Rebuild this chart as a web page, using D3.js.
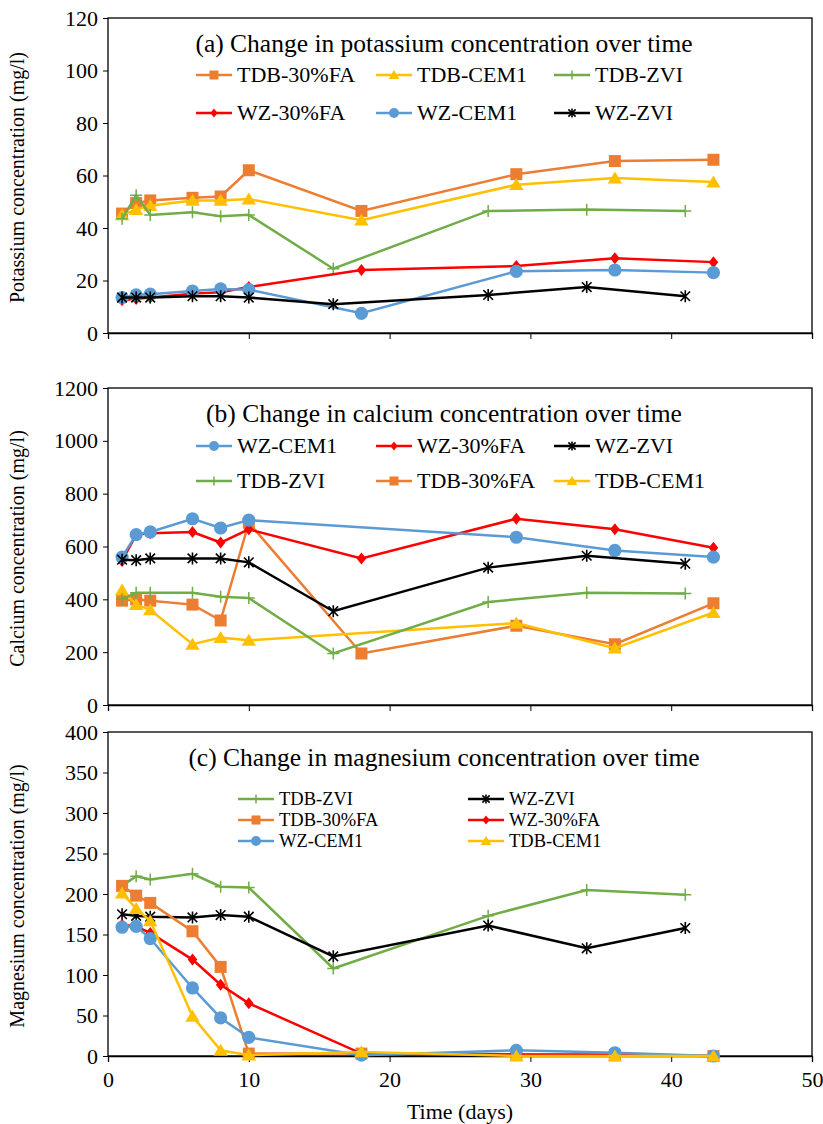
<!DOCTYPE html>
<html>
<head>
<meta charset="utf-8">
<script src="https://d3js.org/d3.v7.min.js"></script>
<style>
  body { margin: 0; background: #fff; }
  svg text { font-family: "Liberation Serif", "Times New Roman", serif; fill: #000; }
</style>
</head>
<body>
<div id="chart"></div>
<script>
// sampling days
const daysMain = [1, 2, 3, 6, 8, 10, 18, 29, 36, 43];
const daysZvi = [1, 2, 3, 6, 8, 10, 16, 27, 34, 41];
const daysSkip18 = [1, 2, 3, 6, 8, 10, 29, 36, 43];

// (a) potassium, mg/l
const kTdbFa = [45.5, 49.5, 50.5, 51.5, 52, 62, 46.5, 60.5, 65.5, 66];
const kTdbCem = [45, 47, 48.5, 50.5, 50.5, 51, 43, 56.5, 59, 57.5];
const kTdbZvi = [43.5, 52.5, 45, 46, 44.5, 45, 24.5, 46.5, 47, 46.5];
const kWzFa = [12.5, 13, 13.5, 15, 15.5, 17.5, 24, 25.5, 28.5, 27];
const kWzCem = [13.5, 14.5, 14.8, 16, 16.8, 16.5, 7.5, 23.5, 24, 23];
const kWzZvi = [13.5, 13.5, 13.5, 14, 14, 13.5, 11, 14.5, 17.5, 14];

// (b) calcium, mg/l
const caWzCem = [560, 645, 655, 705, 670, 700, 635, 585, 560];
const caWzFa = [545, 645, 650, 655, 615, 665, 555, 705, 665, 595];
const caWzZvi = [550, 548, 555, 555, 555, 540, 355, 520, 565, 535];
const caTdbZvi = [400, 425, 425, 425, 410, 405, 195, 390, 425, 422];
const caTdbFa = [395, 400, 395, 380, 320, 690, 195, 300, 230, 385];
const caTdbCem = [435, 380, 360, 230, 255, 245, 310, 215, 350];

// (c) magnesium, mg/l
const mgTdbZvi = [210, 222, 218, 225, 209, 208, 108, 173, 205, 199];
const mgWzZvi = [175, 173, 172, 171, 174, 172, 123, 161, 133, 158];
const mgTdbFa = [210, 198, 189, 154, 110, 3, 3, 2, 1, 0];
const mgWzFa = [162, 160, 152, 119, 88, 65, 3, 2, 2, 0];
const mgWzCem = [159, 160, 145, 84, 47, 23, 1, 7, 4, 0];
const mgTdbCem = [201, 182, 167, 49, 7, 1, 5, 0, 0, 0];

const xTicks = [0, 10, 20, 30, 40, 50];

const styles = {
  'TDB-30%FA': { color: '#ED7D31', shape: 'square' },
  'TDB-CEM1': { color: '#FFC000', shape: 'triangle' },
  'TDB-ZVI': { color: '#70AD47', shape: 'plus' },
  'WZ-30%FA': { color: '#FF0000', shape: 'diamond' },
  'WZ-CEM1': { color: '#5B9BD5', shape: 'circle' },
  'WZ-ZVI': { color: '#000000', shape: 'star' }
};

const panels = [
  {
    title: '(a) Change in potassium concentration over time',
    ylabel: 'Potassium concentration (mg/l)',
    top: 18, bottom: 333, ymax: 120, ystep: 20,
    series: [
      ['TDB-30%FA', daysMain, kTdbFa], ['TDB-CEM1', daysMain, kTdbCem], ['TDB-ZVI', daysZvi, kTdbZvi],
      ['WZ-30%FA', daysMain, kWzFa], ['WZ-CEM1', daysMain, kWzCem], ['WZ-ZVI', daysZvi, kWzZvi]
    ],
    legend: { rows: [75, 113], cols: [196, 376, 554], order: ['TDB-30%FA', 'TDB-CEM1', 'TDB-ZVI', 'WZ-30%FA', 'WZ-CEM1', 'WZ-ZVI'], ncol: 3, size: 22 }
  },
  {
    title: '(b) Change in calcium concentration over time',
    ylabel: 'Calcium concentration (mg/l)',
    top: 388, bottom: 705, ymax: 1200, ystep: 200,
    series: [
      ['TDB-30%FA', daysMain, caTdbFa], ['TDB-CEM1', daysSkip18, caTdbCem], ['TDB-ZVI', daysZvi, caTdbZvi],
      ['WZ-30%FA', daysMain, caWzFa], ['WZ-CEM1', daysSkip18, caWzCem], ['WZ-ZVI', daysZvi, caWzZvi]
    ],
    legend: { rows: [446, 481], cols: [196, 376, 554], order: ['WZ-CEM1', 'WZ-30%FA', 'WZ-ZVI', 'TDB-ZVI', 'TDB-30%FA', 'TDB-CEM1'], ncol: 3, size: 22 }
  },
  {
    title: '(c) Change in magnesium concentration over time',
    ylabel: 'Magnesium concentration (mg/l)',
    top: 732, bottom: 1056, ymax: 400, ystep: 50, xlabels: true,
    series: [
      ['TDB-ZVI', daysZvi, mgTdbZvi], ['WZ-ZVI', daysZvi, mgWzZvi], ['TDB-30%FA', daysMain, mgTdbFa],
      ['WZ-30%FA', daysMain, mgWzFa], ['WZ-CEM1', daysMain, mgWzCem], ['TDB-CEM1', daysMain, mgTdbCem]
    ],
    legend: { rows: [799, 820, 841], cols: [238, 468], order: ['TDB-ZVI', 'WZ-ZVI', 'TDB-30%FA', 'WZ-30%FA', 'WZ-CEM1', 'TDB-CEM1'], ncol: 2, size: 18.5 }
  }
];

const width = 823, height = 1124;
const left = 108, right = 812;
const svg = d3.select('#chart').append('svg').attr('width', width).attr('height', height);
const x = d3.scaleLinear().domain([0, 50]).range([left, right]);

function marker(g, shape, color, cx, cy, s) {
  if (shape === 'square') {
    g.append('rect').attr('x', cx - s).attr('y', cy - s).attr('width', 2 * s).attr('height', 2 * s).attr('fill', color);
  } else if (shape === 'circle') {
    g.append('circle').attr('cx', cx).attr('cy', cy).attr('r', s * 1.1).attr('fill', color);
  } else if (shape === 'triangle') {
    g.append('path').attr('d', `M${cx},${cy - s * 1.1}L${cx + s * 1.2},${cy + s * 0.9}L${cx - s * 1.2},${cy + s * 0.9}Z`).attr('fill', color);
  } else if (shape === 'diamond') {
    g.append('path').attr('d', `M${cx},${cy - s}L${cx + s * 0.8},${cy}L${cx},${cy + s}L${cx - s * 0.8},${cy}Z`).attr('fill', color);
  } else if (shape === 'plus') {
    g.append('path').attr('d', `M${cx - s},${cy}H${cx + s}M${cx},${cy - s}V${cy + s}`).attr('stroke', color).attr('stroke-width', 1.5);
  } else if (shape === 'star') {
    const d = s * 0.8;
    g.append('path').attr('d', `M${cx - d},${cy - d}L${cx + d},${cy + d}M${cx - d},${cy + d}L${cx + d},${cy - d}M${cx},${cy - s}V${cy + s}`)
      .attr('stroke', color).attr('stroke-width', 1.6);
  }
}

panels.forEach(p => {
  const y = d3.scaleLinear().domain([0, p.ymax]).range([p.bottom, p.top]);
  const g = svg.append('g');

  // frame
  g.append('rect').attr('x', left).attr('y', p.top).attr('width', right - left).attr('height', p.bottom - p.top)
    .attr('fill', 'none').attr('stroke', '#000').attr('stroke-width', 1.3);

  const yAxis = d3.axisLeft(y).tickValues(d3.range(0, p.ymax + 1, p.ystep)).tickFormat(d3.format('d')).tickSize(5).tickPadding(5);
  const ya = g.append('g').attr('transform', `translate(${left},0)`).call(yAxis);
  ya.select('.domain').remove();
  ya.selectAll('text').attr('font-size', 22);

  const xAxis = d3.axisBottom(x).tickValues(xTicks).tickSize(6).tickPadding(9);
  if (!p.xlabels) xAxis.tickFormat('');
  const xa = g.append('g').attr('transform', `translate(0,${p.bottom})`).call(xAxis);
  xa.select('.domain').attr('stroke-width', 1.3);
  xa.selectAll('text').attr('font-size', 22);

  g.append('text').attr('transform', `translate(24,${(p.top + p.bottom) / 2 + 2}) rotate(-90)`)
    .attr('text-anchor', 'middle').attr('font-size', 20).text(p.ylabel);

  g.append('text').attr('x', 444).attr('y', p.top + 34).attr('text-anchor', 'middle').attr('font-size', 25.5).text(p.title);

  p.series.forEach(([name, days, vals]) => {
    const st = styles[name];
    const pts = days.map((d, i) => [x(d), y(vals[i])]);
    g.append('path').attr('d', d3.line()(pts)).attr('fill', 'none').attr('stroke', st.color).attr('stroke-width', 2.5);
    pts.forEach(([px, py]) => marker(g, st.shape, st.color, px, py, 6));
  });

  // legend
  const L = p.legend;
  L.order.forEach((name, i) => {
    const st = styles[name];
    const lx = L.cols[i % L.ncol], ly = L.rows[Math.floor(i / L.ncol)];
    g.append('line').attr('x1', lx).attr('x2', lx + 36).attr('y1', ly).attr('y2', ly).attr('stroke', st.color).attr('stroke-width', 2.5);
    marker(g, st.shape, st.color, lx + 18, ly, 4.5);
    g.append('text').attr('x', lx + 41).attr('y', ly + L.size * 0.33).attr('font-size', L.size).text(name);
  });
});

svg.append('text').attr('x', 460).attr('y', 1119).attr('text-anchor', 'middle').attr('font-size', 22).text('Time (days)');
</script>
</body>
</html>
